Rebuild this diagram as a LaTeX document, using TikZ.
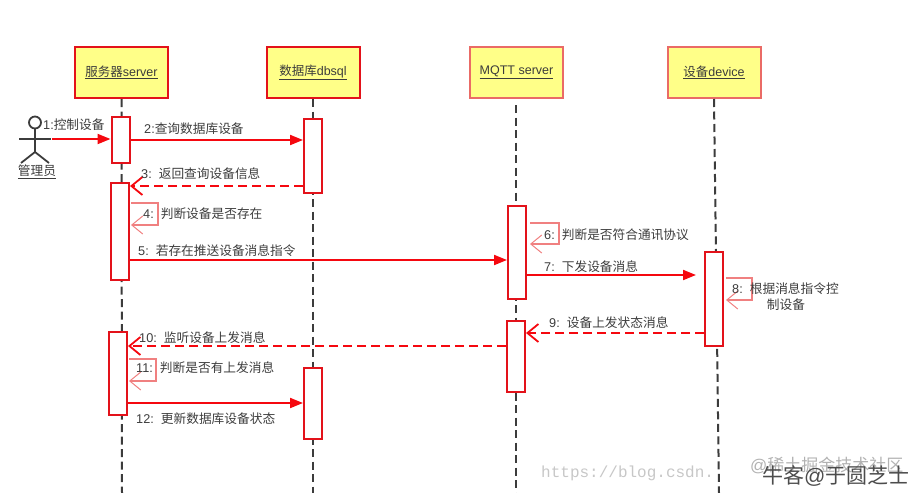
\documentclass[tikz,border=0pt]{standalone}
\usepackage{fontspec}
\setmainfont{Liberation Sans}
\newfontfamily\cjk{Noto Sans CJK SC}
\newfontfamily\wmfont{Liberation Mono}
\usetikzlibrary{arrows.meta,
    positioning}
\definecolor{boxred}{HTML}{E3121A}
\definecolor{softred}{HTML}{EA6B66}
\definecolor{loopred}{HTML}{F08080}
\definecolor{msgred}{HTML}{F5080F}
\definecolor{notefill}{HTML}{FFFF88}
\definecolor{inkgrey}{HTML}{3C3C3C}
\newcommand{\zh}[1]{{\cjk #1}}
\tikzset{
  actorbox/.style={rectangle, draw=boxred, fill=notefill, line width=2pt, minimum width=93pt, minimum height=51pt, inner sep=0pt, text=inkgrey, font=\fontsize{12.5}{14}\selectfont},
  softbox/.style={actorbox, draw=softred},
  activation/.style={rectangle, draw=boxred, fill=white, line width=2pt, minimum width=18pt, inner sep=0pt},
  lifeline/.style={draw=inkgrey, line width=2pt, dash pattern=on 8pt off 4.5pt},
  callmsg/.style={draw=msgred, line width=2pt, -{Triangle[length=13pt,width=10pt]}},
  backmsg/.style={draw=msgred, line width=2pt, dash pattern=on 9pt off 5pt, -{Straight Barb[length=11pt,width=18pt,line width=1.8pt]}},
  selfmsg/.style={draw=loopred, line width=1.2pt, -{Straight Barb[length=11pt,width=18pt,line width=1pt]}},
  msglabel/.style={text=inkgrey, inner sep=0pt, anchor=west, font=\fontsize{12.7}{15}\selectfont},
  stick/.style={draw=inkgrey, line width=1.8pt},
  }

\begin{document}
\begin{tikzpicture}[x=1pt,y=-1pt]
  \useasboundingbox (0,0) rectangle (922,493);
  % lifeline heads
  \node [actorbox] (server) at (121.5,72.5) {\underline{\zh{服务器}server}};
  \node [actorbox] (dbsql)  at (313,72.5)   {\underline{\zh{数据库}dbsql}};
  \node [softbox]  (mqtt)   at (516.5,72.5) {\underline{MQTT server}};
  \node [softbox]  (device) at (714,72.5)   {\underline{\zh{设备}device}};
  % foot of each lifeline
  \coordinate (serverend) at (122,493);
  \coordinate (dbsqlend)  at (313,493);
  \coordinate (mqttend)   at (516,493);
  \coordinate (deviceend) at (719,493);
  \coordinate (mqtttop)   at (516,105);
  \draw [lifeline] (server.south) -- (serverend);
  \draw [lifeline] (dbsql.south) -- (dbsqlend);
  \draw [lifeline] (mqtttop) -- (mqttend);
  \draw [lifeline] (device.south) -- (deviceend);
  % activations
  \node [activation, minimum height=46pt] (serverA) at (120.5,140)   {};
  \node [activation, minimum height=97pt] (serverB) at (120,231.5)   {};
  \node [activation, minimum height=83pt] (serverC) at (118,373.5)   {};
  \node [activation, minimum height=74pt] (dbsqlA)  at (313,156)     {};
  \node [activation, minimum height=71pt] (dbsqlB)  at (313,403.5)   {};
  \node [activation, minimum height=93pt] (mqttA)   at (517,252.5)   {};
  \node [activation, minimum height=71pt] (mqttB)   at (516,356.5)   {};
  \node [activation, minimum height=94pt] (deviceA) at (714,299)     {};
  % the person on the left
  \node [circle, stick, minimum size=12pt, inner sep=0pt] (head) at (35,122.5) {};
  \coordinate (hip)   at (35,152);
  \coordinate (armL)  at (19,139);
  \coordinate (armR)  at (51,139);
  \coordinate (legL)  at (21,163);
  \coordinate (legR)  at (49,163);
  \draw [stick] (head) -- (hip);
  \draw [stick] (armL) -- (armR);
  \draw [stick] (legL) -- (hip) -- (legR);
  \node [msglabel, anchor=center] (admin) at (37,172) {\underline{\zh{管理员}}};
  % messages
  \coordinate (hand) at (52,139);
  \draw [callmsg] (hand) -- (serverA.west |- hand);
  \coordinate (m2) at (0,140);
  \draw [callmsg] (serverA.east |- m2) -- (dbsqlA.west |- m2);
  \coordinate (m3) at (0,186);
  \draw [backmsg] (dbsqlA.west |- m3) -- (serverB.east |- m3);
  \coordinate (m5) at (0,260);
  \draw [callmsg] (serverB.east |- m5) -- (mqttA.west |- m5);
  \coordinate (m7) at (0,275);
  \coordinate (m7end) at (696,275);
  \draw [callmsg] (mqttA.east |- m7) -- (m7end);
  \coordinate (m9) at (0,333);
  \draw [backmsg] (deviceA.west |- m9) -- (mqttB.east |- m9);
  \coordinate (m10) at (0,346);
  \draw [backmsg] (mqttB.west |- m10) -- (serverC.east |- m10);
  \coordinate (m12) at (0,403);
  \draw [callmsg] (serverC.east |- m12) -- (dbsqlB.west |- m12);
  % self messages
  \coordinate (s4) at (0,203);
  \draw [selfmsg] ([xshift=1pt]serverB.east |- s4) -- ++(27,0) -- ++(0,22) -- ++(-27,0);
  \coordinate (s6) at (0,223);
  \draw [selfmsg] ([xshift=3pt]mqttA.east |- s6) -- ++(29,0) -- ++(0,21) -- ++(-29,0);
  \coordinate (s8) at (0,278);
  \draw [selfmsg] ([xshift=2pt]deviceA.east |- s8) -- ++(26,0) -- ++(0,22) -- ++(-26,0);
  \coordinate (s11) at (0,359);
  \draw [selfmsg] ([xshift=1pt]serverC.east |- s11) -- ++(27,0) -- ++(0,22) -- ++(-27,0);
  % message texts
  \node [msglabel] (t1)  at (43,125)  {1:\zh{控制设备}};
  \node [msglabel] (t2)  at (144,129) {2:\zh{查询数据库设备}};
  \node [msglabel] (t3)  at (141,174) {3:\ \ \zh{返回查询设备信息}};
  \node [msglabel] (t4)  at (143,214) {4:\ \ \zh{判断设备是否存在}};
  \node [msglabel] (t5)  at (138,251) {5:\ \ \zh{若存在推送设备消息指令}};
  \node [msglabel] (t6)  at (544,235) {6:\ \ \zh{判断是否符合通讯协议}};
  \node [msglabel] (t7)  at (544,267) {7:\ \ \zh{下发设备消息}};
  \node [msglabel] (t8)  at (732,289) {8:\ \ \zh{根据消息指令控}};
  \node [msglabel, anchor=center] (t8b) at (786,305) {\zh{制设备}};
  \node [msglabel] (t9)  at (549,323) {9:\ \ \zh{设备上发状态消息}};
  \node [msglabel] (t10) at (139,338) {10:\ \ \zh{监听设备上发消息}};
  \node [msglabel] (t11) at (136,368) {11:\ \ \zh{判断是否有上发消息}};
  \node [msglabel] (t12) at (136,419) {12:\ \ \zh{更新数据库设备状态}};
  % marks over the corner
  \node [anchor=west, inner sep=0pt, text=black!22, font=\wmfont\fontsize{16}{18}\selectfont] (mark1) at (541,473) {https://blog.csdn.};
  \node [anchor=west, inner sep=0pt, text=black!30, font=\fontsize{17}{20}\selectfont] (mark2) at (750,465) {@\zh{稀土掘金技术社区}};
  \node [anchor=west, inner sep=0pt, text=black!70, font=\fontsize{21}{22}\selectfont] (mark3) at (762,476) {\zh{牛客}@\zh{于圆芝士}};
\end{tikzpicture}
\end{document}
